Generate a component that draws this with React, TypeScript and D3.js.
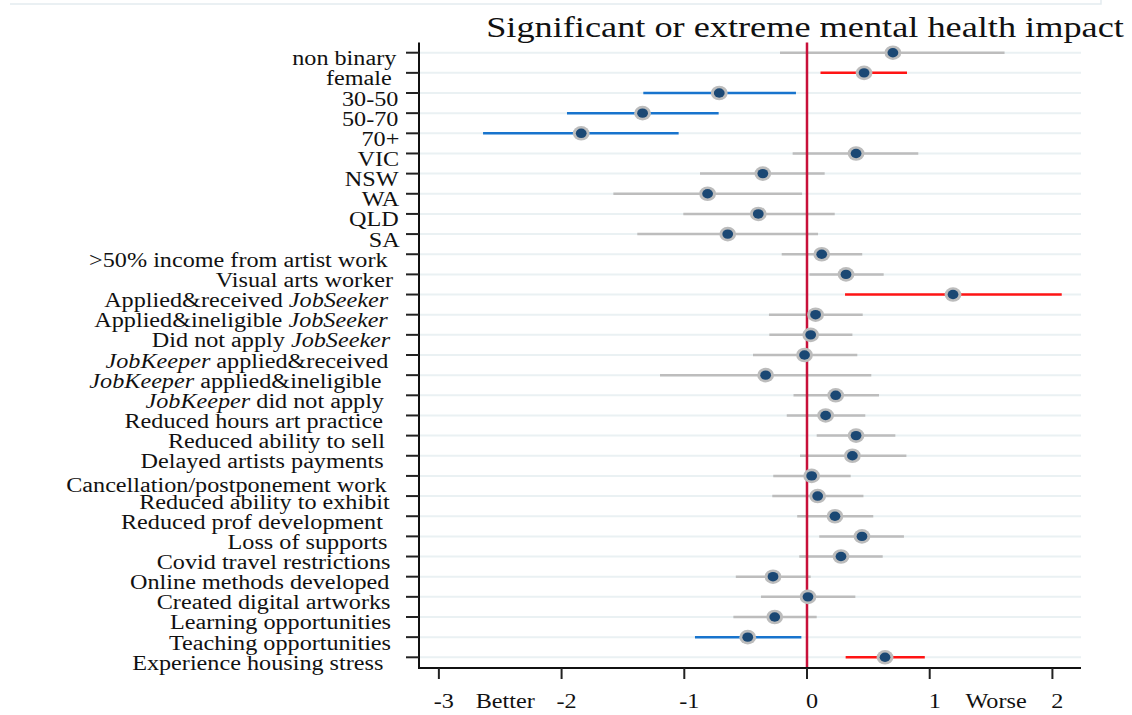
import React, { useEffect, useRef } from 'react';
import * as d3 from 'd3';

const labels: string[] = [
  'non binary', 'female ', '30-50', '50-70', '70+', 'VIC', 'NSW', 'WA', 'QLD', 'SA',
  '>50% income from artist work', 'Visual arts worker', 'Applied&received JobSeeker',
  'Applied&ineligible JobSeeker', 'Did not apply JobSeeker', 'JobKeeper applied&received',
  'JobKeeper applied&ineligible ', 'JobKeeper did not apply ', 'Reduced hours art practice ',
  'Reduced ability to sell ', 'Delayed artists payments ', 'Cancellation/postponement work',
  'Reduced ability to exhibit', 'Reduced prof development ', 'Loss of supports ',
  'Covid travel restrictions', 'Online methods developed', 'Created digital artworks',
  'Learning opportunities', 'Teaching opportunities', 'Experience housing stress ',
];
const italicTerms = ['JobSeeker', 'JobKeeper'];

const estimates: number[] = [0.70, 0.465, -0.715, -1.34, -1.84, 0.40, -0.36, -0.81, -0.397, -0.646,
  0.12, 0.318, 1.19, 0.07, 0.03, -0.02, -0.337, 0.234, 0.152, 0.40, 0.37, 0.038, 0.087, 0.228,
  0.448, 0.277, -0.277, 0.008, -0.263, -0.483, 0.636];
const lower: number[] = [-0.22, 0.11, -1.334, -1.956, -2.64, -0.117, -0.872, -1.578, -1.008, -1.383,
  -0.206, 0.02, 0.31, -0.31, -0.307, -0.44, -1.198, -0.11, -0.165, 0.079, -0.057, -0.275, -0.283,
  -0.08, 0.1, -0.063, -0.58, -0.375, -0.6, -0.913, 0.315];
const upper: number[] = [1.61, 0.815, -0.09, -0.72, -1.046, 0.907, 0.144, -0.04, 0.226, 0.09,
  0.45, 0.625, 2.076, 0.454, 0.37, 0.41, 0.524, 0.587, 0.475, 0.72, 0.81, 0.356, 0.46, 0.54,
  0.79, 0.617, 0.03, 0.394, 0.079, -0.046, 0.96];
// significance: 'pos' = significantly worse, 'neg' = significantly better, 'ns' = not significant
const significance: string[] = ['ns', 'pos', 'neg', 'neg', 'neg', 'ns', 'ns', 'ns', 'ns', 'ns',
  'ns', 'ns', 'pos', 'ns', 'ns', 'ns', 'ns', 'ns', 'ns', 'ns', 'ns', 'ns', 'ns', 'ns', 'ns', 'ns',
  'ns', 'ns', 'ns', 'neg', 'pos'];

const xTickValues: number[] = [-3, -2, -1, 0, 1, 2];
const xTextLabels: { v: number; t: string }[] = [
  { v: -3, t: '-3' }, { v: -2.5, t: 'Better' }, { v: -2, t: '-2' }, { v: -1, t: '-1' },
  { v: 0, t: '0' }, { v: 1, t: '1' }, { v: 1.5, t: 'Worse' }, { v: 2, t: '2' },
];
const title = 'Significant or extreme mental health impact';

const FONT = "'Liberation Serif', 'Times New Roman', serif";
const S = 1.21; // horizontal stretch of the original rendering
const colors: Record<string, string> = { ns: '#bdbdbd', pos: '#ff1414', neg: '#1874cd' };
const labelNudge: Record<string, number> = { 'Cancellation/postponement work': 4 };

export default function App() {
  const ref = useRef<SVGSVGElement>(null);
  useEffect(() => {
    const svg = d3.select(ref.current);
    svg.selectAll('*').remove();
    const left = 419, right = 1081, top = 42.5, bottom = 668;
    const x = d3.scaleLinear().domain([-3.162, 2.233]).range([left, right]);
    const y = d3.scalePoint<number>().domain(d3.range(labels.length)).range([52.7, 657.3]);

    // top frame remnant
    svg.append('path').attr('d', 'M10,4H1101V0').attr('fill', 'none')
      .attr('stroke', '#e4ebef').attr('stroke-width', 1.5);

    // gridlines
    svg.append('g').selectAll('line').data(d3.range(labels.length)).join('line')
      .attr('x1', left).attr('x2', right)
      .attr('y1', (i) => y(i)!).attr('y2', (i) => y(i)!)
      .attr('stroke', '#eaf1f3').attr('stroke-width', 2);

    // CI lines
    svg.append('g').selectAll('line').data(d3.range(labels.length)).join('line')
      .attr('x1', (i) => x(lower[i])).attr('x2', (i) => x(upper[i]))
      .attr('y1', (i) => y(i)!).attr('y2', (i) => y(i)!)
      .attr('stroke', (i) => colors[significance[i]]).attr('stroke-width', 2.5);

    // zero line
    svg.append('line').attr('x1', x(0)).attr('x2', x(0)).attr('y1', top).attr('y2', bottom)
      .attr('stroke', '#c8103a').attr('stroke-width', 2.5);

    // markers
    const mk = svg.append('g').selectAll('g').data(d3.range(labels.length)).join('g')
      .attr('transform', (i) => `translate(${x(estimates[i])},${y(i)})`);
    mk.append('ellipse').attr('rx', 8.4).attr('ry', 7.3).attr('fill', '#bcbcbc');
    mk.append('ellipse').attr('rx', 5.4).attr('ry', 4.7).attr('fill', '#1b4874');

    // axes
    svg.append('line').attr('x1', left).attr('x2', left).attr('y1', top).attr('y2', bottom + 1)
      .attr('stroke', '#111').attr('stroke-width', 2);
    svg.append('line').attr('x1', left - 1).attr('x2', right).attr('y1', bottom).attr('y2', bottom)
      .attr('stroke', '#111').attr('stroke-width', 2);
    svg.append('g').selectAll('line').data(d3.range(labels.length)).join('line')
      .attr('x1', 406).attr('x2', left).attr('y1', (i) => y(i)!).attr('y2', (i) => y(i)!)
      .attr('stroke', '#222').attr('stroke-width', 2);
    svg.append('g').selectAll('line').data(xTickValues).join('line')
      .attr('x1', (v) => x(v)).attr('x2', (v) => x(v)).attr('y1', bottom).attr('y2', bottom + 11)
      .attr('stroke', '#222').attr('stroke-width', 2);

    // y labels
    labels.forEach((lab, i) => {
      const g = svg.append('g');
      const t = g.append('text').attr('text-anchor', 'end').attr('font-family', FONT)
        .attr('font-size', 20).attr('fill', '#111').attr('xml:space', 'preserve')
        .style('white-space', 'pre');
      const re = new RegExp(`(${italicTerms.join('|')})`);
      lab.split(re).filter((p) => p.length).forEach((p) => {
        const ts = t.append('tspan').text(p);
        if (italicTerms.includes(p)) ts.attr('font-style', 'italic');
      });
      const w = (t.node() as SVGTextElement).getComputedTextLength();
      const rx = 401 - 0.045 * S * w;
      g.attr('transform', `translate(${rx},${y(i)! + 12.5 + (labelNudge[lab] || 0)}) scale(${S},1)`);
    });

    // x labels
    svg.append('g').selectAll('g').data(xTextLabels).join('g')
      .attr('transform', (d) => `translate(${x(d.v) + 5},708) scale(${S},1)`)
      .append('text').attr('text-anchor', 'middle').attr('font-family', FONT)
      .attr('font-size', 20).attr('fill', '#111').text((d) => d.t);

    // title
    svg.append('g').attr('transform', `translate(805,37) scale(${S},1)`)
      .append('text').attr('text-anchor', 'middle').attr('font-family', FONT)
      .attr('font-size', 30).attr('fill', '#111').text(title);
  }, []);
  return (
    <svg ref={ref} width={1132} height={715}
      style={{ position: 'absolute', left: 0, top: 0, background: '#fff' }} />
  );
}
